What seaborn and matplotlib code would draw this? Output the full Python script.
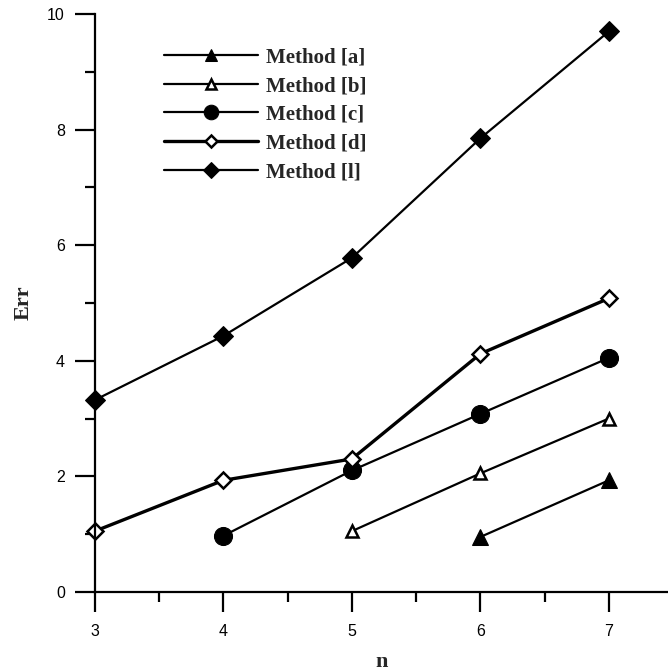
import matplotlib
matplotlib.use("Agg")
import matplotlib.pyplot as plt
import seaborn as sns
import pandas as pd
from matplotlib.ticker import MultipleLocator

sns.set_theme(style="ticks")
plt.rcParams['font.family'] = ['Liberation Sans', 'DejaVu Sans']

methods = ["Method [a]", "Method [b]", "Method [c]", "Method [d]", "Method [l]"]
n_a = [6, 7]
err_a = [0.95, 1.93]
n_b = [5, 6, 7]
err_b = [1.05, 2.05, 3.0]
n_c = [4, 5, 6, 7]
err_c = [0.97, 2.1, 3.08, 4.05]
n_d = [3, 4, 5, 6, 7]
err_d = [1.05, 1.93, 2.3, 4.12, 5.08]
n_l = [3, 4, 5, 6, 7]
err_l = [3.32, 4.43, 5.78, 7.85, 9.7]

series = [
    (methods[0], n_a, err_a, dict(marker="^", markersize=12, markerfacecolor="black", linewidth=1.6)),
    (methods[1], n_b, err_b, dict(marker="^", markersize=9, markerfacecolor="white", markeredgewidth=1.8, linewidth=1.6)),
    (methods[2], n_c, err_c, dict(marker="o", markersize=13, markerfacecolor="black", linewidth=1.6)),
    (methods[3], n_d, err_d, dict(marker="D", markersize=8, markerfacecolor="white", markeredgewidth=1.8, linewidth=2.4)),
    (methods[4], n_l, err_l, dict(marker="D", markersize=10, markerfacecolor="black", linewidth=1.6)),
]
legend_ms = [9, 7, 10.5, 6.5, 8]

fig = plt.figure(figsize=(6.68, 6.71), dpi=100)
ax = fig.add_axes([0.142, 0.118, 0.858, 0.861])

for name, xs, ys, kw in series:
    df = pd.DataFrame({"n": xs, "Err": ys})
    sns.lineplot(data=df, x="n", y="Err", ax=ax, color="black",
                 markeredgecolor="black", label=name, clip_on=False, **kw)

ax.set_xlim(3, 7.46)
ax.set_ylim(0, 10)
ax.xaxis.set_major_locator(MultipleLocator(1))
ax.xaxis.set_minor_locator(MultipleLocator(0.5))
ax.yaxis.set_major_locator(MultipleLocator(2))
ax.yaxis.set_minor_locator(MultipleLocator(1))
ax.tick_params(which="major", length=14.5, width=1.6, direction="out", labelsize=11.5, colors="black")
ax.tick_params(axis="y", which="major", pad=7)
ax.tick_params(axis="x", which="major", pad=9)
ax.tick_params(which="minor", length=7, width=1.6, direction="out", colors="black")
for side in ["top", "right"]:
    ax.spines[side].set_visible(False)
for side in ["left", "bottom"]:
    ax.spines[side].set_linewidth(1.6)
    ax.spines[side].set_color("black")

ax.set_xlabel("n", fontfamily="Liberation Serif", fontweight="bold", fontsize=16, labelpad=9)
ax.set_ylabel("Err", fontfamily="Liberation Serif", fontweight="bold", fontsize=16, labelpad=10)

leg = ax.legend(loc="upper left", bbox_to_anchor=(0.088, 0.975), frameon=False,
                handlelength=4.5, handletextpad=0.4, labelspacing=0.42,
                prop={"family": "Liberation Serif", "weight": "bold", "size": 15})
for line, ms in zip(leg.get_lines(), legend_ms):
    line.set_markersize(ms)

fig.savefig("out.png", dpi=100)
